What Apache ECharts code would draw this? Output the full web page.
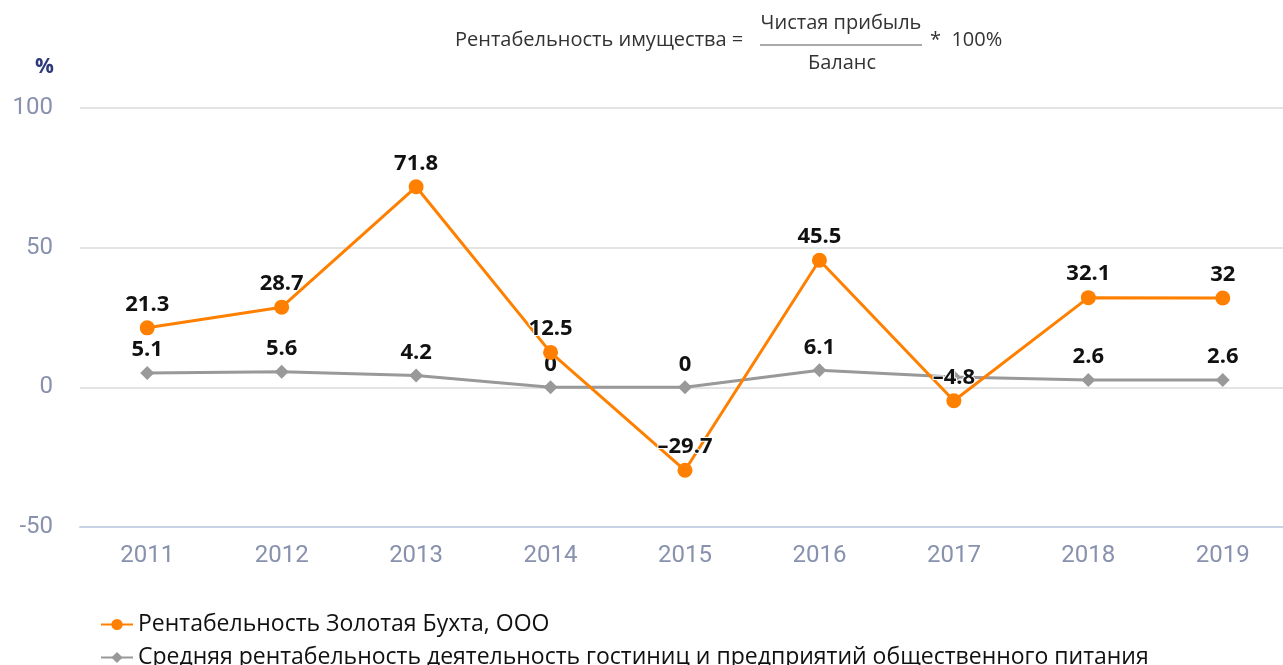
<!DOCTYPE html>
<html>
<head>
<meta charset="utf-8">
<script src="https://cdn.jsdelivr.net/npm/echarts@6/dist/echarts.min.js"></script>
<style>
  html, body { margin: 0; padding: 0; background: #fff; }
  #chart { width: 1283px; height: 665px; }
</style>
</head>
<body>
<div id="chart"></div>
<script>
const years = ['2011', '2012', '2013', '2014', '2015', '2016', '2017', '2018', '2019'];
const companyValues = [21.3, 28.7, 71.8, 12.5, -29.7, 45.5, -4.8, 32.1, 32];
const industryValues = [5.1, 5.6, 4.2, 0, 0, 6.1, 3.7, 2.6, 2.6];
// the 2017 industry label is not shown on the original
const industryHiddenLabels = [6];
const yTicks = { min: -50, max: 100, interval: 50 };

const companyName = 'Рентабельность Золотая Бухта, ООО';
const industryName = 'Средняя рентабельность деятельность гостиниц и предприятий общественного питания';

const chart = echarts.init(document.getElementById('chart'));

// negative labels use an en dash, like the source
const fmt = v => String(v).replace('-', '–');

const labelStyle = {
    show: true,
    position: 'top',
    distance: 5,
    fontFamily: 'Open Sans',
    fontWeight: 'bold',
    fontSize: 22,
    color: '#111',
    textBorderColor: '#fff',
    textBorderWidth: 2,
    formatter: p => fmt(p.value)
};

const formulaFont = '20px "Open Sans"';
const legendBase = {
    orient: 'horizontal',
    left: 95,
    itemWidth: 32,
    itemHeight: 14,
    textStyle: { fontFamily: 'Open Sans', fontSize: 23, color: '#111' }
};

chart.setOption({
    animation: false,
    grid: {
        left: 80,
        width: 1210,
        top: 108,
        bottom: 138,
        outerBoundsMode: 'none',
        containLabel: false
    },
    legend: [
        Object.assign({}, legendBase, { top: 608, data: [companyName] }),
        Object.assign({}, legendBase, { top: 641, data: [industryName] })
    ],
    graphic: [
        {
            type: 'text', left: 455, top: 30,
            style: { text: 'Рентабельность имущества =', font: formulaFont, fill: '#333' }
        },
        {
            type: 'text', x: 841, y: 23,
            style: { text: 'Чистая прибыль', font: formulaFont, fill: '#333', align: 'center', verticalAlign: 'middle' }
        },
        {
            type: 'line',
            shape: { x1: 760, y1: 45, x2: 922, y2: 45 },
            style: { stroke: '#555', lineWidth: 1 }
        },
        {
            type: 'text', x: 842, y: 63,
            style: { text: 'Баланс', font: formulaFont, fill: '#333', align: 'center', verticalAlign: 'middle' }
        },
        {
            type: 'text', left: 930, top: 30,
            style: { text: '*  100%', font: formulaFont, fill: '#333' }
        }
    ],
    xAxis: {
        type: 'category',
        data: years,
        boundaryGap: true,
        axisLine: { onZero: false, lineStyle: { color: '#c9d3e6', width: 2 } },
        axisTick: { show: false },
        axisLabel: { margin: 17, fontFamily: 'Roboto', fontSize: 24, color: '#8891ad' }
    },
    yAxis: {
        type: 'value',
        min: yTicks.min,
        max: yTicks.max,
        interval: yTicks.interval,
        name: '%',
        nameLocation: 'end',
        nameGap: 30,
        nameTextStyle: { fontFamily: 'Open Sans', fontWeight: 'bold', fontSize: 21, color: '#2e3a7a', align: 'right', padding: [0, 26, 0, 0] },
        axisLine: { show: false },
        axisTick: { show: false },
        axisLabel: { margin: 27, fontFamily: 'Roboto', fontSize: 24, color: '#8891ad' },
        splitLine: { lineStyle: { color: '#e3e3e3', width: 2 } }
    },
    series: [
        {
            name: industryName,
            type: 'line',
            data: industryValues,
            symbol: 'diamond',
            symbolSize: 14,
            itemStyle: { color: '#999999' },
            lineStyle: { color: '#999999', width: 3 },
            label: Object.assign({}, labelStyle, {
                formatter: p => industryHiddenLabels.includes(p.dataIndex) ? '' : fmt(p.value)
            }),
            z: 2
        },
        {
            name: companyName,
            type: 'line',
            data: companyValues,
            symbol: 'circle',
            symbolSize: 15,
            itemStyle: { color: '#ff8000' },
            lineStyle: { color: '#ff8000', width: 3 },
            label: labelStyle,
            z: 3
        }
    ]
});
</script>
</body>
</html>
